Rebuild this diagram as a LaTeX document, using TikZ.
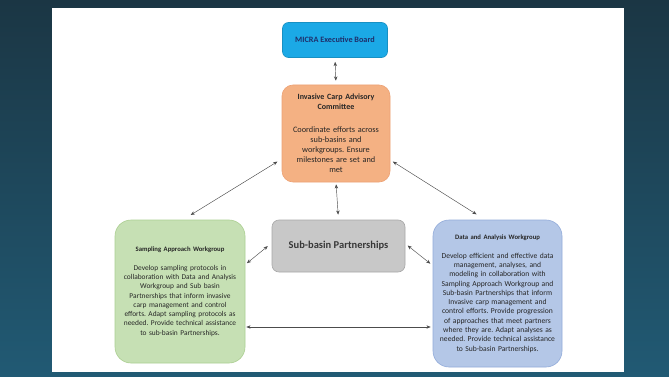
\documentclass[tikz,border=0pt]{standalone}
\usepackage{fontspec}
\setmainfont{Carlito}
\frenchspacing
\usetikzlibrary{arrows.meta,positioning,calc}
\definecolor{slidetop}{HTML}{1B3644}
\definecolor{slidebot}{HTML}{215A74}
\definecolor{micrafill}{HTML}{1BA9E6}
\definecolor{micratext}{HTML}{1F2F6B}
\definecolor{icfill}{HTML}{F4B183}
\definecolor{icdraw}{HTML}{EDA275}
\definecolor{sbfill}{HTML}{C8C8C8}
\definecolor{sbdraw}{HTML}{A8A8A8}
\definecolor{safill}{HTML}{C6E0B4}
\definecolor{sadraw}{HTML}{ACCF92}
\definecolor{dafill}{HTML}{B4C7E7}
\definecolor{dadraw}{HTML}{93ACDA}
\tikzset{
  >={Stealth[length=1.5mm,width=1.2mm]},
  box/.style={rounded corners=9pt,align=center,inner sep=2pt,line width=0.6pt,
    text=black!85},
  mxbox/.style={box,rounded corners=6pt,fill=micrafill,draw=micrafill!85!black,
    minimum width=105pt,minimum height=35pt,text=micratext,
    font=\fontsize{8.2}{9}\selectfont\bfseries},
  icbox/.style={box,rounded corners=11pt,fill=icfill,draw=icdraw,
    text width=102pt,minimum width=108pt,minimum height=97pt,
    font=\fontsize{8.3}{10}\selectfont},
  sbbox/.style={box,rounded corners=7pt,fill=sbfill,draw=sbdraw,
    minimum width=133pt,minimum height=52pt,text=black!78,
    font=\fontsize{10.5}{11}\selectfont\bfseries},
  wgbox/.style={box,rounded corners=16pt,text width=124pt,minimum width=130pt,
    font=\fontsize{7.4}{9.3}\selectfont},
  link/.style={<->,line width=0.45pt,black!70},
}
\begin{document}
\begin{tikzpicture}[x=1pt,y=-1pt]
  \useasboundingbox (0,0) rectangle (669,377);
  % ---- slide ----
  \shade[top color=slidetop,bottom color=slidebot] (0,0) rectangle (669,377);
  \fill[white] (52,8) rectangle (624,372);
  % ---- boxes ----
  \node[mxbox] (mx) at (335,40) {MICRA Executive Board};
  \node[icbox] (ic) at (336,133.5)
    {\centering\bfseries\fontsize{8}{10}\selectfont Invasive Carp Advisory\par
    Committee\par\vspace{13pt}\mdseries\fontsize{8.3}{10}\selectfont
    Coordinate efforts across\par sub-basins and\par workgroups. Ensure\par
    milestones are set and\par met\par};
  \node[sbbox] (sb) at (338.5,246) {Sub-basin Partnerships};
  \node[wgbox,fill=safill,draw=sadraw,minimum height=143pt] (sa) at (180,291.5)
    {\centering\bfseries\fontsize{6.7}{9.3}\selectfont Sampling Approach Workgroup\par
    \vspace{9.5pt}\mdseries\fontsize{7.4}{9.3}\selectfont
    Develop sampling protocols in\par collaboration with Data and Analysis\par
    Workgroup and Sub basin\par Partnerships that inform invasive\par
    carp management and control\par efforts. Adapt sampling protocols as\par
    needed. Provide technical assistance\par to sub-basin Partnerships.\par};
  \node[wgbox,fill=dafill,draw=dadraw,minimum width=129pt,minimum height=147pt] (da)
    at (497.5,293.5)
    {\centering\bfseries\fontsize{6.7}{9.3}\selectfont Data and Analysis Workgroup\par
    \vspace{9.5pt}\mdseries\fontsize{7.6}{9.3}\selectfont
    Develop efficient and effective data\par management, analyses, and\par
    modeling in collaboration with\par Sampling Approach Workgroup and\par
    Sub-basin Partnerships that inform\par Invasive carp management and\par
    control efforts. Provide progression\par of approaches that meet partners\par
    where they are. Adapt analyses as\par needed. Provide technical assistance\par
    to Sub-basin Partnerships.\par};
  % ---- connectors ----
  \draw[link,shorten <=4pt,shorten >=4pt] (mx.south) -- (ic.north);
  \draw[link,shorten <=2pt,shorten >=5pt] (ic.south) -- (sb.north);
  \draw[link,shorten <=5pt,shorten >=9pt] ([yshift=-25.5pt]ic.west) -- ([xshift=3pt]sa.north);
  \draw[link,shorten <=3pt,shorten >=10pt] ([yshift=-26.5pt]ic.east) -- ([xshift=-12.5pt]da.north);
  \draw[link,shorten <=5pt,shorten >=2pt] ([yshift=3pt]sb.west) -- ([yshift=27pt]sa.east);
  \draw[link,shorten <=3pt,shorten >=3pt] ([yshift=2.3pt]sb.east) -- ([yshift=28pt]da.west);
  \draw[link,shorten <=1pt,shorten >=2pt] ([yshift=-35.5pt]sa.east)
    -- ([yshift=-35.5pt]sa.east -| da.west);
\end{tikzpicture}
\end{document}
